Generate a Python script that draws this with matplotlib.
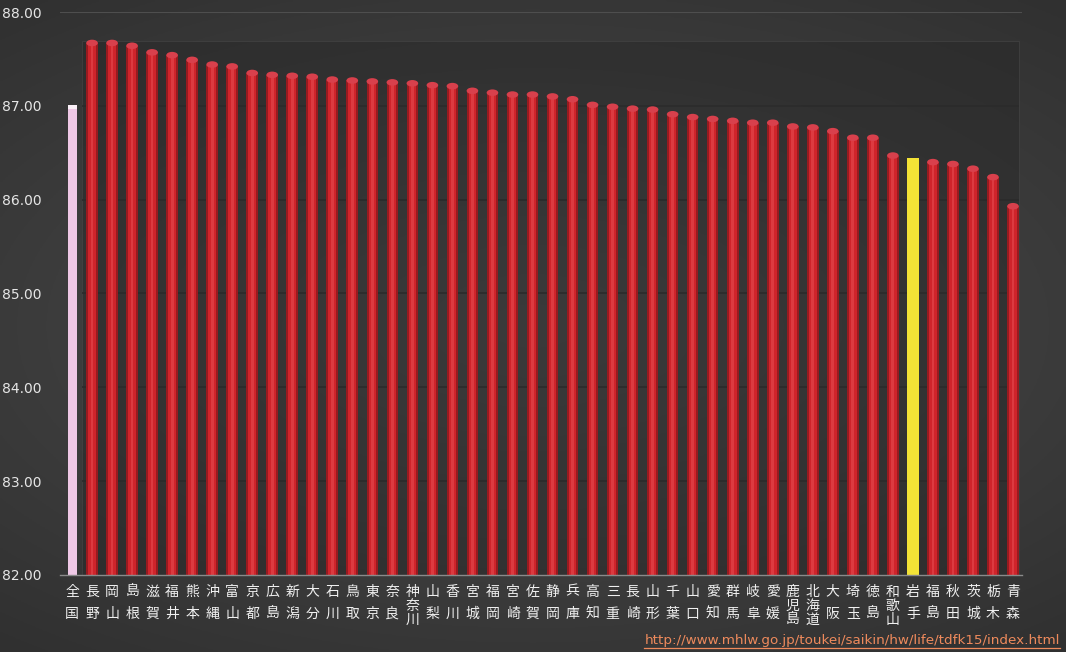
import matplotlib
matplotlib.use("Agg")
import matplotlib.pyplot as plt
import numpy as np
from matplotlib.patches import Ellipse, Rectangle
from matplotlib.lines import Line2D

plt.rcParams["font.family"] = ["Noto Sans CJK JP", "DejaVu Sans"]

# 都道府県別 平均寿命（女）
prefectures = [
    "全国", "長野", "岡山", "島根", "滋賀", "福井", "熊本", "沖縄", "富山", "京都",
    "広島", "新潟", "大分", "石川", "鳥取", "東京", "奈良", "神奈川", "山梨", "香川",
    "宮城", "福岡", "宮崎", "佐賀", "静岡", "兵庫", "高知", "三重", "長崎", "山形",
    "千葉", "山口", "愛知", "群馬", "岐阜", "愛媛", "鹿児島", "北海道", "大阪", "埼玉",
    "徳島", "和歌山", "岩手", "福島", "秋田", "茨城", "栃木", "青森",
]
life_exp = [
    87.01, 87.67, 87.67, 87.64, 87.57, 87.54, 87.49, 87.44, 87.42, 87.35,
    87.33, 87.32, 87.31, 87.28, 87.27, 87.26, 87.25, 87.24, 87.22, 87.21,
    87.16, 87.14, 87.12, 87.12, 87.10, 87.07, 87.01, 86.99, 86.97, 86.96,
    86.91, 86.88, 86.86, 86.84, 86.82, 86.82, 86.78, 86.77, 86.73, 86.66,
    86.66, 86.47, 86.44, 86.40, 86.38, 86.33, 86.24, 85.93,
]
y_ticks = [82, 83, 84, 85, 86, 87, 88]
highlight = "岩手"
national = "全国"
source_url = "http://www.mhlw.go.jp/toukei/saikin/hw/life/tdfk15/index.html"

Y_MIN, Y_MAX = 82, 88

fig = plt.figure(figsize=(10.76, 6.52), dpi=100, facecolor="white")

# dark gradient background (image ends a few px before the right edge)
bg = fig.add_axes([0, 0, 1066 / 1076, 1])
gx, gy = np.meshgrid(np.linspace(-1, 1, 400), np.linspace(-1, 1, 250))
r = np.sqrt((gx * 0.9) ** 2 + (gy * 1.1) ** 2)
shade = 0.30 - 0.11 * np.clip(r, 0, 1.4) / 1.4
bg.imshow(np.dstack([shade, shade, shade]), aspect="auto", extent=[0, 1, 0, 1])
bg.set_axis_off()

ax = fig.add_axes([60 / 1076, 77 / 652, 962 / 1076, 563 / 652])
ax.set_facecolor("none")

x = np.arange(len(prefectures))
ax.set_xlim(-0.6, len(prefectures) - 0.55)
ax.set_ylim(Y_MIN, Y_MAX)

# back wall of the 3D plot
wall_top = max(life_exp) + 0.02
ax.add_patch(Rectangle((0.5, Y_MIN), len(prefectures) - 1.2, wall_top - Y_MIN,
                       facecolor="#262626", alpha=0.45, edgecolor="#4e4e4e",
                       linewidth=0.7, zorder=0))
for t in y_ticks[1:-1]:
    ax.hlines(t, 0.5, len(prefectures) - 0.7, color="#2b2b2b", linewidth=1.2, zorder=1)
ax.axhline(Y_MAX, color="#4e4e4e", linewidth=0.8, zorder=1)

for i, (name, v) in enumerate(zip(prefectures, life_exp)):
    h = v - Y_MIN
    if name == national:
        ax.bar(i, h, bottom=Y_MIN, width=0.45, color="#efc8e6", zorder=3)
        ax.bar(i, 0.04, bottom=v - 0.04, width=0.45, color="#fbf0f8", zorder=4)
    elif name == highlight:
        ax.bar(i, h, bottom=Y_MIN, width=0.6, color="#f3e336", zorder=3)
    else:
        ax.bar(i, h, bottom=Y_MIN, width=0.58, color="#971b20", zorder=3)
        ax.bar(i, h, bottom=Y_MIN, width=0.38, color="#cf242b", zorder=3)
        ax.bar(i, h, bottom=Y_MIN, width=0.14, color="#dc3a40", zorder=3)
        ax.add_patch(Ellipse((i, v), 0.58, 0.07, facecolor="#d8404c",
                             edgecolor="none", zorder=4))

ax.set_yticks(y_ticks)
ax.set_yticklabels([f"{t:.2f}" for t in y_ticks], color="#e6e6e6", fontsize=10,
                   family=["DejaVu Sans"])
ax.set_xticks(x)
ax.set_xticklabels(["\n".join(p) for p in prefectures], color="#f0f0f0", fontsize=10)
for lab, p in zip(ax.get_xticklabels(), prefectures):
    lab.set_linespacing(1.75 if len(p) == 2 else 1.0)

ax.tick_params(axis="both", length=0)
ax.tick_params(axis="y", pad=13)
ax.tick_params(axis="x", pad=7)
for side in ["top", "right", "left"]:
    ax.spines[side].set_visible(False)
ax.spines["bottom"].set_color("#8a8a8a")
ax.spines["bottom"].set_linewidth(1.0)
ax.spines["bottom"].set_zorder(5)

fig.text(1060 / 1076, 5 / 652, source_url, ha="right", va="bottom",
         color="#ee8a5c", fontsize=9.7, family=["DejaVu Sans"])
fig.add_artist(Line2D([644 / 1076, 1060 / 1076], [4 / 652, 4 / 652],
                      color="#ee8a5c", linewidth=0.9, transform=fig.transFigure))

fig.savefig("out.png", dpi=100, facecolor="white")
